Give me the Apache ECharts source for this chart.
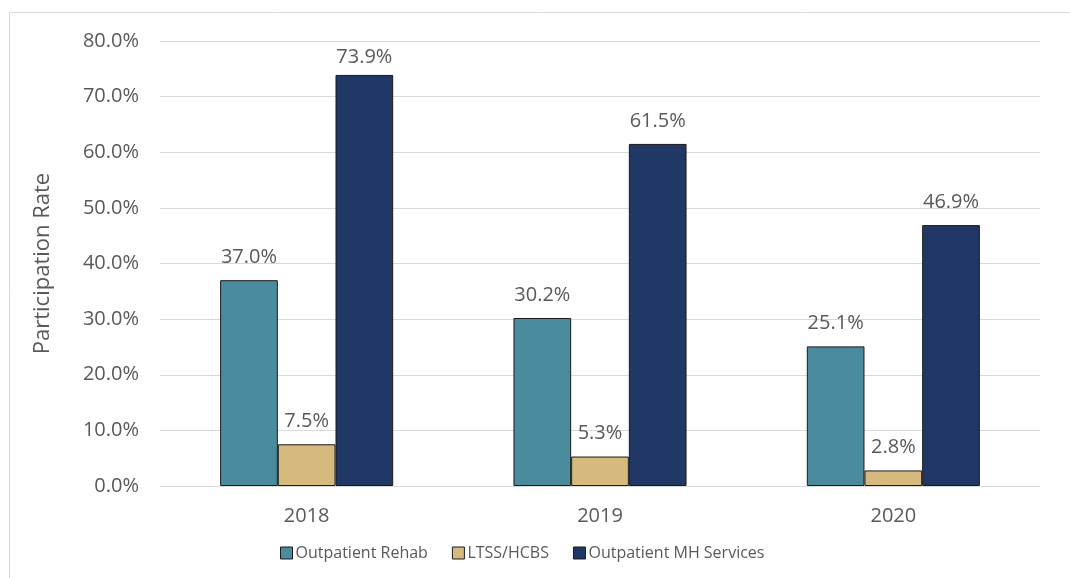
<!DOCTYPE html>
<html><head><meta charset="utf-8">
<script src="https://cdn.jsdelivr.net/npm/echarts@6/dist/echarts.min.js"></script>
<style>html,body{margin:0;padding:0;background:#fff}#c{width:1070px;height:578px}</style>
</head><body><div id="c"></div>
<script>
const categories = ['2018', '2019', '2020'];
const rehab = [37.0, 30.2, 25.1];
const ltss = [7.5, 5.3, 2.8];
const mh = [73.9, 61.5, 46.9];
const seriesNames = ['Outpatient Rehab', 'LTSS/HCBS', 'Outpatient MH Services'];
const colors = ['#4A8B9D', '#D6B97C', '#213765'];

const font = 'Open Sans';
const txt = '#595959';
function mk(name, data, color) {
  return {
    name, type: 'bar', data: data.map(v => ({value: v, label: v > 70 ? {distance: 8} : undefined})),
    barGap: '0%', barCategoryGap: '41%',
    itemStyle: {color, borderColor: '#1a1a1a', borderWidth: 1},
    label: {show: true, position: 'top', distance: 13, color: txt, fontFamily: font, fontSize: 20, letterSpacing: 0,
      formatter: p => p.value.toFixed(1) + '%'}
  };
}
const chart = echarts.init(document.getElementById('c'));
chart.setOption({
  animation: false,
  graphic: [{type: 'rect', shape: {x: 9.5, y: 12.5, width: 1080, height: 600}, style: {fill: 'none', stroke: '#d9d9d9', lineWidth: 1}}],
  grid: {left: 160, right: 30, top: 41, bottom: 92},
  legend: {
    top: 540, left: 275, itemWidth: 12, itemHeight: 12, itemGap: 24,
    textStyle: {color: txt, fontFamily: font, fontSize: 16, padding: [0, 0, 0, -2]},
    data: seriesNames.map(n => ({name: n, icon: 'rect', itemStyle: {borderColor: '#1a1a1a', borderWidth: 1}}))
  },
  xAxis: {
    type: 'category', data: categories,
    axisLine: {lineStyle: {color: '#d9d9d9'}}, axisTick: {show: false},
    axisLabel: {color: txt, fontFamily: font, fontSize: 20, margin: 20}
  },
  yAxis: {
    type: 'value', min: 0, max: 80, interval: 10,
    name: 'Participation Rate', nameLocation: 'middle', nameGap: 106,
    nameTextStyle: {color: txt, fontFamily: font, fontSize: 22, letterSpacing: 2},
    axisLabel: {color: txt, fontFamily: font, fontSize: 20, letterSpacing: 0.6, margin: 21, formatter: v => v.toFixed(1) + '%'},
    splitLine: {lineStyle: {color: '#d9d9d9'}}, axisLine: {show: false}, axisTick: {show: false}
  },
  series: [mk(seriesNames[0], rehab, colors[0]), mk(seriesNames[1], ltss, colors[1]), mk(seriesNames[2], mh, colors[2])]
});
</script></body></html>
